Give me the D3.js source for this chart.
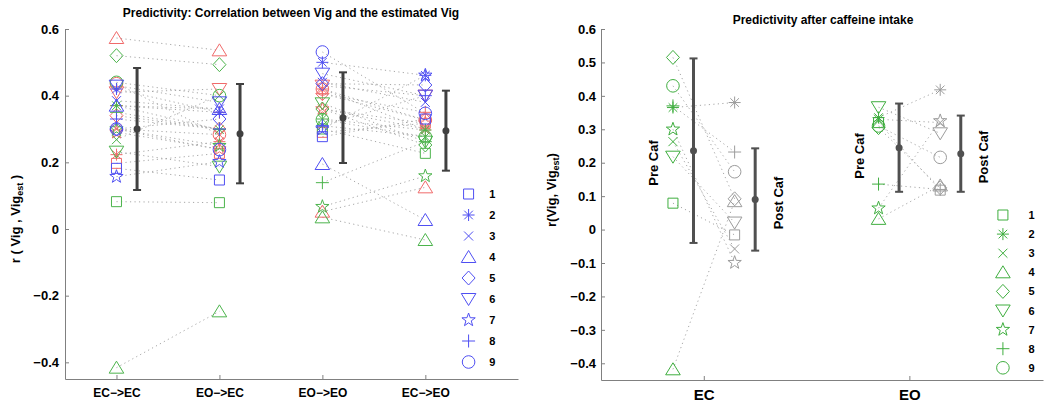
<!DOCTYPE html>
<html><head><meta charset="utf-8">
<script src="https://cdn.jsdelivr.net/npm/d3@7"></script>
<style>
body{margin:0;background:#fff}
svg{display:block}
text{font-family:"Liberation Sans",Arial,sans-serif;font-weight:bold;fill:#000}
</style>
</head><body>
<svg id="c" width="1050" height="406"></svg>
<script>
// ---------- DATA ----------
const subjectLabels = ["1","2","3","4","5","6","7","8","9"];
const shapes = ["square","asterisk","x","triangle","diamond","triangleDown","star","plus","circle"];
const groupNames = ["red","green","blue"];
const categoriesL = ["EC\u2212>EC","EO\u2212>EC","EO\u2212>EO","EC\u2212>EO"];
const yTicksL = [-0.4,-0.2,0,0.2,0.4,0.6];

// left panel values per subject (1..9) for each colour group
const ecEc_red   = [0.197,0.223,0.300,0.573,0.340,0.410,0.290,0.370,0.436];
const ecEc_green = [0.082,0.370,0.268,-0.416,0.520,0.232,0.300,0.350,0.440];
const ecEc_blue  = [0.182,0.420,0.385,0.370,0.300,0.430,0.157,0.330,0.300];
const eoEc_red   = [0.227,0.262,0.283,0.536,0.300,0.420,0.240,0.350,0.283];
const eoEc_green = [0.079,0.298,0.400,-0.247,0.493,0.187,0.250,0.300,0.400];
const eoEc_blue  = [0.147,0.350,0.360,0.360,0.330,0.380,0.202,0.300,0.238];
const eoEo_red   = [0.290,0.420,0.360,0.052,0.406,0.430,0.360,0.406,0.420];
const eoEo_green = [0.300,0.330,0.310,0.035,0.360,0.377,0.067,0.139,0.328];
const eoEo_blue  = [0.277,0.500,0.440,0.195,0.436,0.466,0.300,0.310,0.531];
const ecEo_red   = [0.317,0.297,0.300,0.125,0.327,0.400,0.317,0.350,0.327];
const ecEo_green = [0.227,0.297,0.277,-0.033,0.252,0.262,0.159,0.262,0.277];
const ecEo_blue  = [0.330,0.461,0.380,0.027,0.432,0.400,0.461,0.400,0.347];

// left panel mean and half-range of error bars
const meanL = [0.300,0.286,0.334,0.295];
const errL  = [0.183,0.149,0.136,0.120];

// right panel
const categoriesR = ["EC","EO"];
const yTicksR = [-0.4,-0.3,-0.2,-0.1,0,0.1,0.2,0.3,0.4,0.5,0.6];
const preEC  = [0.079,0.365,0.263,-0.418,0.515,0.218,0.300,0.370,0.430];
const postEC = [-0.016,0.380,-0.058,0.085,0.092,0.021,-0.099,0.232,0.173];
const preEO  = [0.320,0.335,0.330,0.032,0.305,0.366,0.064,0.136,0.310];
const postEO = [0.118,0.418,0.320,0.132,0.125,0.288,0.325,0.120,0.216];
const meanPre  = [0.236,0.245];
const errPre   = [0.276,0.132];
const meanPost = [0.090,0.227];
const errPost  = [0.153,0.114];

// ---------- STYLE ----------
const colors = {red:"#f06a6a", green:"#4cb44c", blue:"#4f4ff2", post:"#9c9c9c", pre:"#3fae3f"};
const axisColor = "#808080";

function shapePath(name){
  switch(name){
    case "square": return "M-5,-5H5V5H-5Z";
    case "asterisk": return "M-6,0H6M0,-6V6M-4.3,-4.3L4.3,4.3M-4.3,4.3L4.3,-4.3";
    case "x": return "M-4.5,-4.5L4.5,4.5M-4.5,4.5L4.5,-4.5";
    case "triangle": return "M0,-6.5L7.3,5.5H-7.3Z";
    case "triangleDown": return "M0,6.5L7.3,-5.5H-7.3Z";
    case "diamond": return "M0,-7L6.5,0L0,7L-6.5,0Z";
    case "plus": return "M-6.5,0H6.5M0,-6.5V6.5";
    case "circle": return "M6.3,0A6.3,6.3 0 1,1 -6.3,0A6.3,6.3 0 1,1 6.3,0Z";
    case "star": {
      let p=[];
      for(let i=0;i<10;i++){
        const r = i%2===0 ? 7 : 2.8;
        const a = -Math.PI/2 + i*Math.PI/5;
        p.push((r*Math.cos(a)).toFixed(2)+","+(r*Math.sin(a)).toFixed(2));
      }
      return "M"+p.join("L")+"Z";
    }
  }
}

const svg = d3.select("#c");

function marker(g, x, y, shape, color){
  g.append("path").attr("d", shapePath(shape))
    .attr("transform", `translate(${x},${y})`)
    .attr("fill","none").attr("stroke", color).attr("stroke-width",1);
}
function errBar(g, x, m, e, y, color){
  g.append("line").attr("x1",x).attr("x2",x).attr("y1",y(m-e)).attr("y2",y(m+e))
    .attr("stroke",color).attr("stroke-width",3);
  [m-e,m+e].forEach(v=>g.append("line").attr("x1",x-4).attr("x2",x+4)
    .attr("y1",y(v)).attr("y2",y(v)).attr("stroke",color).attr("stroke-width",2));
  g.append("circle").attr("cx",x).attr("cy",y(m)).attr("r",3.5).attr("fill",color);
}
function dotted(g, x1, y1, x2, y2){
  g.append("line").attr("x1",x1).attr("y1",y1).attr("x2",x2).attr("y2",y2)
    .attr("stroke","#a8a8a8").attr("stroke-width",1).attr("stroke-dasharray","1.2,3.3");
}
function styleAxis(a, size){
  a.select(".domain").attr("stroke",axisColor);
  a.selectAll(".tick line").attr("stroke",axisColor);
  a.selectAll(".tick text").attr("font-size",size).attr("fill","#000")
    .attr("font-family","Liberation Sans, Arial, sans-serif").attr("font-weight","bold");
}
const fmt = v => v===0 ? "0" : (v<0 ? "\u2212"+d3.format(".1f")(-v) : d3.format(".1f")(v));

// ---------- LEFT PANEL ----------
const xL = d3.scaleLinear().domain([0.5,4.9]).range([65,518]);
const yL = d3.scaleLinear().domain([-0.45,0.6]).range([379,29]);
const gL = svg.append("g");

const leftData = [
  [ecEc_red, ecEc_green, ecEc_blue],
  [eoEc_red, eoEc_green, eoEc_blue],
  [eoEo_red, eoEo_green, eoEo_blue],
  [ecEo_red, ecEo_green, ecEo_blue]
];
const linesL = gL.append("g"), marksL = gL.append("g"), errsL = gL.append("g");
[[0,1],[2,3]].forEach(([a,b])=>{
  for(let c=0;c<3;c++) for(let s=0;s<9;s++){
    dotted(linesL, xL(a+1), yL(leftData[a][c][s]), xL(b+1), yL(leftData[b][c][s]));
  }
});
leftData.forEach((cat,ci)=>{
  cat.forEach((arr,c)=>arr.forEach((v,s)=>marker(marksL, xL(ci+1), yL(v), shapes[s], colors[groupNames[c]])));
  errBar(errsL, xL(ci+1)+ (xL(1.2)-xL(1)), meanL[ci], errL[ci], yL, "#404040");
});

const axLy = gL.append("g").attr("transform","translate(65,0)")
  .call(d3.axisLeft(yL).tickValues(yTicksL).tickFormat(fmt).tickSizeInner(-4).tickSizeOuter(0).tickPadding(6));
styleAxis(axLy, 13);
const axLx = gL.append("g").attr("transform","translate(0,379)")
  .call(d3.axisBottom(xL).tickValues([1,2,3,4]).tickFormat(i=>categoriesL[i-1]).tickSizeInner(-4).tickSizeOuter(0).tickPadding(9));
styleAxis(axLx, 12);

// legend left
subjectLabels.forEach((lab,i)=>{
  const yy = 194 + i*21;
  marker(gL, xL(4.42), yy, shapes[i], colors.blue);
  gL.append("text").attr("x", xL(4.62)).attr("y", yy+4).attr("font-size",11).text(lab);
});

gL.append("text").attr("x",291).attr("y",17).attr("text-anchor","middle").attr("font-size",12)
  .text("Predictivity: Correlation between Vig and the estimated Vig");
const ylabL = gL.append("text").attr("transform","translate(20,219) rotate(-90)")
  .attr("text-anchor","middle").attr("font-size",13);
ylabL.append("tspan").text("r ( Vig , Vig");
ylabL.append("tspan").attr("font-size",9).attr("dy",3).text("est");
ylabL.append("tspan").attr("dy",-3).text(" )");

// ---------- RIGHT PANEL ----------
const xR = d3.scaleLinear().domain([0.5,2.65]).range([601,1043]);
const yR = d3.scaleLinear().domain([-0.45,0.6]).range([380,29]);
const gR = svg.append("g");
const preArr = [preEC, preEO], postArr = [postEC, postEO];
const linesR = gR.append("g"), marksR = gR.append("g"), errsR = gR.append("g");
[0,1].forEach(ci=>{
  const c = ci+1;
  for(let s=0;s<9;s++) dotted(linesR, xR(c-0.15), yR(preArr[ci][s]), xR(c+0.15), yR(postArr[ci][s]));
  for(let s=0;s<9;s++){
    marker(marksR, xR(c-0.15), yR(preArr[ci][s]), shapes[s], colors.pre);
    marker(marksR, xR(c+0.15), yR(postArr[ci][s]), shapes[s], colors.post);
  }
  errBar(errsR, xR(c-0.05), meanPre[ci], errPre[ci], yR, "#505050");
  errBar(errsR, xR(c+0.25), meanPost[ci], errPost[ci], yR, "#505050");
});
// Pre / Post labels
const capLab = [[xR(0.755),163,"Pre Caf"],[xR(1.36),203,"Post Caf"],[xR(1.755),156,"Pre Caf"],[xR(2.36),157,"Post Caf"]];
capLab.forEach(([x,y,t])=>gR.append("text").attr("transform",`translate(${x+5},${y}) rotate(-90)`)
  .attr("text-anchor","middle").attr("font-size",13).text(t));

const axRy = gR.append("g").attr("transform","translate(601,0)")
  .call(d3.axisLeft(yR).tickValues(yTicksR).tickFormat(fmt).tickSizeInner(-4).tickSizeOuter(0).tickPadding(5));
styleAxis(axRy, 13);
const axRx = gR.append("g").attr("transform","translate(0,380)")
  .call(d3.axisBottom(xR).tickValues([1,2]).tickFormat(i=>categoriesR[i-1]).tickSizeInner(-4).tickSizeOuter(0).tickPadding(9));
styleAxis(axRx, 15);

subjectLabels.forEach((lab,i)=>{
  const yy = 215 + i*19.1;
  marker(gR, xR(2.455), yy, shapes[i], colors.pre);
  gR.append("text").attr("x", xR(2.58)).attr("y", yy+4).attr("font-size",11).text(lab);
});

gR.append("text").attr("x",823).attr("y",24).attr("text-anchor","middle").attr("font-size",12)
  .text("Predictivity after caffeine intake");
const ylabR = gR.append("text").attr("transform","translate(556,190) rotate(-90)")
  .attr("text-anchor","middle").attr("font-size",13);
ylabR.append("tspan").text("r(Vig, Vig");
ylabR.append("tspan").attr("font-size",9).attr("dy",3).text("est");
ylabR.append("tspan").attr("dy",-3).text(")");
</script>
</body></html>
